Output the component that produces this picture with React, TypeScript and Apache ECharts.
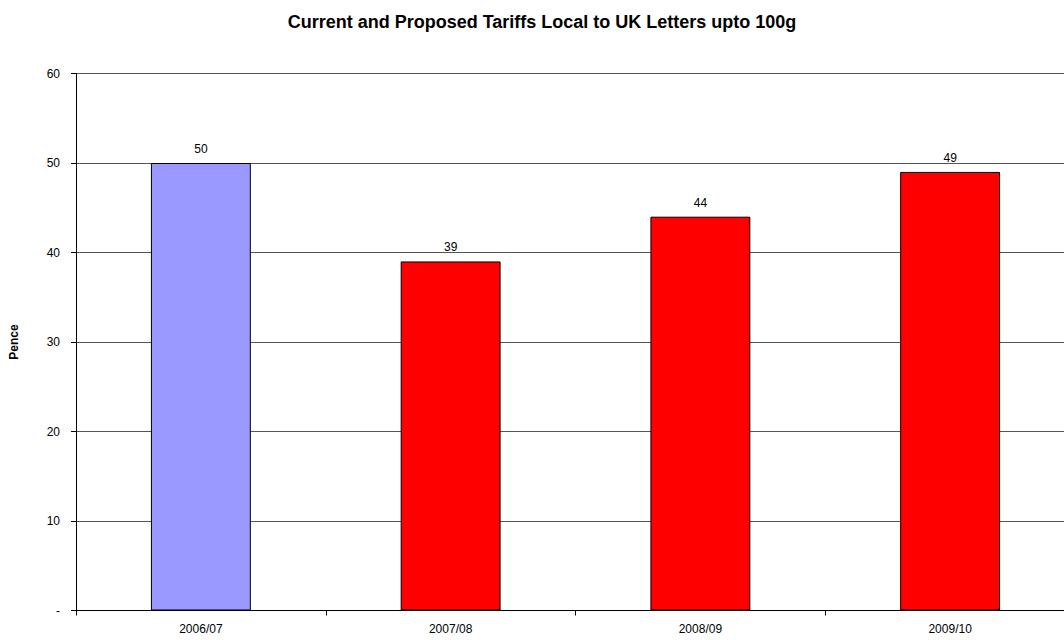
import React, { useEffect, useRef } from "react";
import * as echarts from "echarts";

const categories = ["2006/07", "2007/08", "2008/09", "2009/10"];
const values = [50, 39, 44, 49];
const barColors = ["#9999FF", "#FF0000", "#FF0000", "#FF0000"];
const titleText = "Current and Proposed Tariffs Local to UK Letters upto 100g";
const yAxisName = "Pence";

export default function App() {
  const ref = useRef<HTMLDivElement>(null);
  useEffect(() => {
    if (!ref.current) return;
    const chart = echarts.init(ref.current, undefined, { renderer: "svg" });
    const font = "Liberation Sans, Arial, sans-serif";
    chart.setOption({
      animation: false,
      backgroundColor: "#fff",
      title: {
        text: titleText,
        left: 537,
        textAlign: "center",
        top: 8,
        textStyle: { fontFamily: font, fontSize: 18, fontWeight: "bold", color: "#000" },
      },
      grid: { left: 75, right: 1, top: 73.5, bottom: 29.5, containLabel: false },
      xAxis: {
        type: "category",
        data: categories,
        axisLine: { lineStyle: { color: "#000", width: 1 } },
        axisTick: { show: true, length: 5, lineStyle: { color: "#000" } },
        axisLabel: { fontFamily: font, fontSize: 12, color: "#000", margin: 12 },
        splitLine: { show: false },
      },
      yAxis: {
        type: "value",
        min: 0,
        max: 60,
        interval: 10,
        name: yAxisName,
        nameLocation: "middle",
        nameRotate: 90,
        nameGap: 56,
        nameTextStyle: { fontFamily: font, fontSize: 12, fontWeight: "bold", color: "#000" },
        axisLine: { show: true, lineStyle: { color: "#000", width: 1 } },
        axisTick: { show: true, inside: false, length: 5, lineStyle: { color: "#000" } },
        axisLabel: {
          fontFamily: font,
          fontSize: 12,
          color: "#000",
          margin: 16,
          formatter: (v: number) => (v === 0 ? "-" : String(v)),
        },
        splitLine: { show: true, lineStyle: { color: "#555", width: 1 } },
      },
      series: [
        {
          type: "bar",
          data: values.map((v, i) => ({
            value: v,
            itemStyle: { color: barColors[i], borderColor: "#000", borderWidth: 1 },
          })),
          barWidth: "40%",
          label: {
            show: true,
            position: "top",
            distance: 8,
            fontFamily: font,
            fontSize: 12,
            color: "#000",
          },
        },
      ],
    });
    return () => chart.dispose();
  }, []);
  return (
    <div style={{ position: "fixed", left: 0, top: 0, width: 1064, height: 640, overflow: "hidden" }}>
      <div ref={ref} style={{ width: 1076, height: 640 }} />
    </div>
  );
}
